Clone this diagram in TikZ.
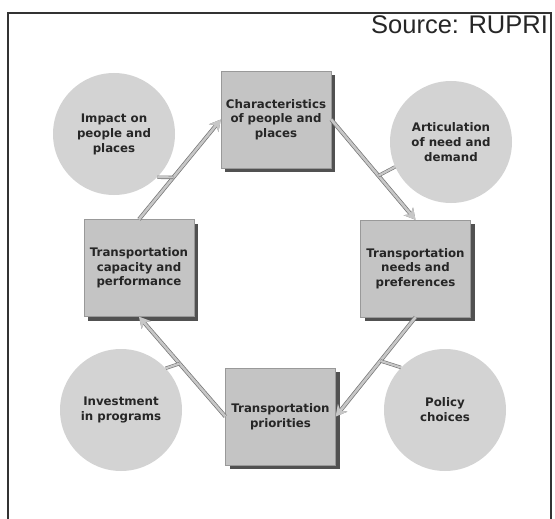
\documentclass[tikz,border=0pt]{standalone}
\usepackage{fontspec}
\setmainfont{DejaVu Sans}
\newfontfamily\srcfont{Liberation Sans}
\usetikzlibrary{arrows.meta,shadows}

\definecolor{boxgray}{HTML}{C4C4C4}
\definecolor{ringgray}{HTML}{D3D3D3}

\tikzset{
  stage/.style={draw=black!40, fill=boxgray, minimum width=110pt, minimum height=97pt,
    text width=106pt, align=center, inner sep=1pt, font=\bfseries\fontsize{11.8}{14.5}\selectfont,
    text=black!85, drop shadow={shadow xshift=4pt, shadow yshift=-4pt, fill=black!85, opacity=.8}},
  factor/.style={circle, fill=ringgray, minimum size=122pt, align=center, inner sep=0pt,
    font=\bfseries\fontsize{11.8}{15}\selectfont, text=black!85},
  flow/.style={draw=black!22, line width=2.6pt, -{Stealth[length=11pt,width=12pt]},
    preaction={draw=black!55, line width=4pt, -{Stealth[length=11pt,width=12pt]}}},
  link/.style={draw=black!22, line width=2.2pt,
    preaction={draw=black!55, line width=3.4pt}}
}

\begin{document}
\begin{tikzpicture}[x=1pt, y=-1pt]
    \useasboundingbox (0,0) rectangle (555,519);

    % frame and source line
    \begin{scope}
        \clip (0,0) rectangle (550,519);
        \node[anchor=base west, inner sep=0pt, font=\srcfont\fontsize{25.5}{27}\selectfont, text=black!85]
            (source) at (371,34) {Source: RUPRI};
    \end{scope}
    \draw[line width=2pt, black!80] (8,525) -- (8,13) -- (551,13) -- (551,525);

    % the cycle
    \node[stage] (char)   at (276,119.5) {Characteristics\\of people and\\places};
    \node[stage] (needs)  at (415.5,268.5) {Transportation\\needs and\\preferences};
    \node[stage] (prio)   at (280.5,416.5) {Transportation\\priorities};
    \node[stage] (cap)    at (139,268) {Transportation\\capacity and\\performance};

    % outside influences
    \node[factor] (impact) at (114,134) {Impact on\\people and\\places};
    \node[factor] (artic)  at (451,142) {Articulation\\of need and\\demand};
    \node[factor] (invest) at (121,410) {Investment\\in programs};
    \node[factor] (policy) at (445,410) {Policy\\choices};

    \draw[flow] (cap.north) -- coordinate[pos=0.42] (t1) (char.west);
    \draw[flow] (char.east) -- coordinate[pos=0.56] (t2) (needs.north);
    \draw[flow] (needs.south) -- coordinate[pos=0.44] (t3) (prio.east);
    \draw[flow] (prio.west) -- coordinate[pos=0.53] (t4) (cap.south);

    \draw[link] (impact.-45) -- (t1);
    \draw[link] (artic.204) -- (t2);
    \draw[link] (policy.136) -- (t3);
    \draw[link] (invest.43) -- (t4);
\end{tikzpicture}
\end{document}
